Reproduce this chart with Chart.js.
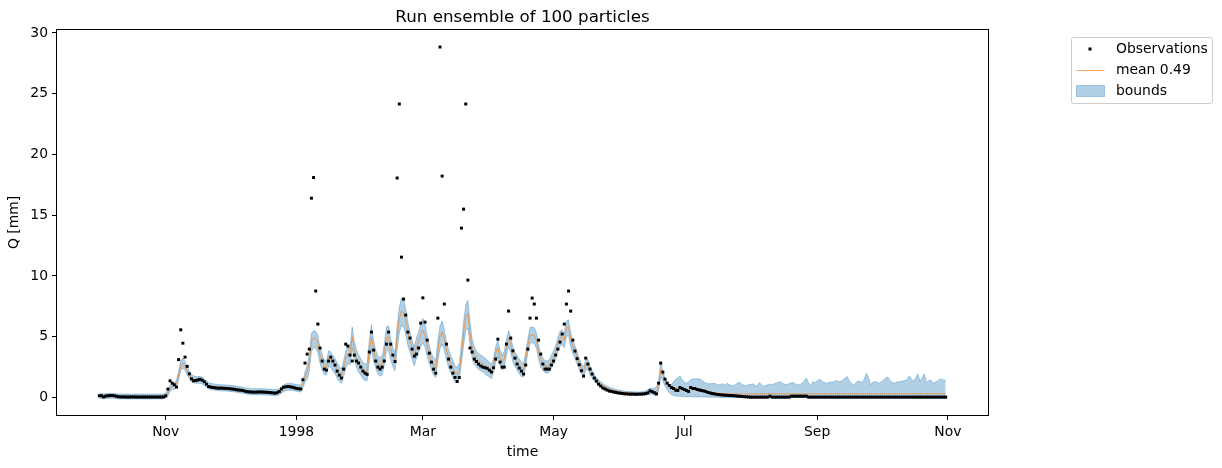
<!DOCTYPE html>
<html>
<head>
<meta charset="utf-8">
<script src="https://cdn.jsdelivr.net/npm/chart.js@4.4.1/dist/chart.umd.min.js"></script>
<style>
  html, body { margin: 0; padding: 0; background: #fff; }
  canvas { display: block; }
</style>
</head>
<body>
<canvas id="runChart" width="1222" height="468"></canvas>
<script>
// daily values from 1 Oct 1997 to 31 Oct 1998, one line per month
const observations = [
  0.14,0.14,0.05,0.12,0.14,0.16,0.16,0.14,0.1,0.06,0.05,0.05,0.05,0.04,0.04,0.05,0.05,0.04,0.04,0.04,0.04,0.04,0.04,0.04,0.04,0.04,0.04,0.04,0.04,0.04,0.05, // Oct
  0.14,0.69,1.37,1.18,1.05,0.86,3.12,5.57,4.47,3.32,2.56,1.95,1.54,1.37,1.4,1.45,1.5,1.42,1.3,1.1,0.9,0.86,0.82,0.8,0.78,0.77,0.77,0.76,0.75,0.74, // Nov
  0.72,0.7,0.68,0.64,0.62,0.6,0.58,0.52,0.48,0.46,0.45,0.44,0.44,0.45,0.46,0.45,0.44,0.43,0.42,0.4,0.38,0.36,0.4,0.5,0.7,0.84,0.88,0.9,0.88,0.85,0.8, // Dec
  0.75,0.72,0.7,1.46,2.83,3.57,3.98,16.4,18.1,8.76,6.04,4.07,3.0,2.34,2.25,3.0,3.32,3.0,2.67,2.17,1.84,1.6,2.34,4.39,4.23,3.49,3.0,3.49,3.0,2.83,2.5, // Jan
  2.17,2.0,1.9,3.74,5.38,3.9,3.0,2.5,2.34,2.5,3.0,4.39,5.38,4.39,3.49,2.96,18.06,24.15,11.55,8.1,6.78,5.38,4.89,3.98,3.4,3.57,4.07,6.12, // Feb
  8.2,6.2,4.72,3.65,2.91,2.33,2.0,6.53,28.84,18.22,7.69,4.39,3.16,2.5,2.0,1.65,1.32,1.65,13.94,15.5,24.15,9.66,4.07,3.74,3.16,2.96,2.75,2.6,2.5,2.45,2.4, // Mar
  2.25,2.1,2.45,3.16,4.8,2.91,2.5,2.5,4.39,7.11,4.89,3.84,3.24,2.75,2.42,2.17,1.93,2.67,3.98,6.53,8.18,7.69,6.53,4.72,3.57,2.75,2.34,2.34,2.34,2.67, // Apr
  3.0,3.49,3.98,4.56,5.22,6.04,7.69,8.76,7.11,4.72,3.82,3.2,2.7,2.2,1.76,3.24,2.75,2.34,1.93,1.6,1.35,1.1,0.94,0.78,0.7,0.61,0.53,0.5,0.45,0.42,0.38, // May
  0.36,0.33,0.3,0.3,0.28,0.28,0.28,0.27,0.27,0.28,0.28,0.3,0.32,0.38,0.55,0.48,0.4,0.3,1.18,2.83,2.09,1.51,1.18,0.99,0.82,0.74,0.6,0.58,0.82,0.74, // Jun
  0.66,0.58,0.5,0.82,0.74,0.74,0.66,0.62,0.58,0.54,0.5,0.42,0.38,0.33,0.3,0.26,0.24,0.22,0.2,0.19,0.18,0.17,0.16,0.15,0.13,0.11,0.1,0.08,0.06,0.05,0.04, // Jul
  0.03,0.03,0.03,0.03,0.03,0.03,0.03,0.03,0.03,0.11,0.03,0.03,0.03,0.03,0.03,0.03,0.03,0.03,0.03,0.11,0.11,0.11,0.11,0.11,0.11,0.11,0.11,0.03,0.03,0.03,0.03, // Aug
  0.03,0.03,0.03,0.03,0.03,0.03,0.03,0.03,0.03,0.03,0.03,0.03,0.03,0.03,0.03,0.03,0.03,0.03,0.03,0.03,0.03,0.03,0.03,0.03,0.03,0.03,0.03,0.03,0.03,0.03, // Sep
  0.03,0.03,0.03,0.03,0.03,0.03,0.03,0.03,0.03,0.03,0.03,0.03,0.03,0.03,0.03,0.03,0.03,0.03,0.03,0.03,0.03,0.03,0.03,0.03,0.03,0.03,0.03,0.03,0.03,0.03,0.03  // Oct
];

const meanRun = [
  0.12,0.13,0.1,0.11,0.13,0.14,0.14,0.13,0.11,0.09,0.08,0.08,0.08,0.08,0.08,0.08,0.08,0.08,0.08,0.08,0.08,0.08,0.08,0.08,0.08,0.08,0.08,0.08,0.08,0.08,0.09,
  0.15,0.4,0.75,0.9,0.95,1.1,1.8,2.6,2.85,2.6,2.2,1.85,1.6,1.5,1.45,1.45,1.45,1.38,1.25,1.08,0.98,0.92,0.88,0.85,0.83,0.81,0.8,0.79,0.78,0.77,
  0.75,0.73,0.71,0.68,0.65,0.63,0.6,0.56,0.52,0.5,0.48,0.47,0.47,0.47,0.48,0.47,0.46,0.45,0.44,0.43,0.41,0.4,0.42,0.48,0.62,0.76,0.84,0.88,0.88,0.86,0.83,
  0.79,0.76,0.74,1.1,1.7,2.1,2.9,4.6,4.9,4.85,4.5,3.5,3.0,2.55,2.5,3.3,3.2,2.9,2.65,2.3,2.0,1.8,2.4,3.2,3.6,3.45,5.0,3.9,3.3,2.9,2.6,
  2.3,2.15,2.15,3.9,5.0,3.9,3.2,2.75,2.6,2.7,3.6,4.9,4.95,4.0,3.4,3.0,5.0,6.4,7.1,7.0,6.3,5.3,4.6,4.0,3.45,4.1,4.6,5.2,
  5.55,5.1,4.3,3.6,3.0,2.6,2.4,3.9,5.0,5.4,4.8,3.9,3.3,2.8,2.4,2.0,1.9,2.2,3.6,5.3,6.6,6.9,5.3,4.1,3.5,3.2,3.0,2.9,2.8,2.65,2.5,
  2.35,2.2,2.7,3.6,4.1,3.3,2.9,3.2,4.2,4.9,4.4,3.6,3.2,2.9,2.6,2.35,2.3,3.2,4.3,5.1,5.15,5.1,4.7,3.8,3.1,2.8,2.6,2.55,2.65,3.0,
  3.35,3.8,4.4,4.9,5.0,4.7,5.7,5.8,4.8,4.2,3.8,3.3,2.8,2.4,2.2,2.7,2.8,2.3,1.95,1.65,1.45,1.25,1.1,1.0,0.85,0.78,0.7,0.64,0.58,0.54,0.5,
  0.47,0.44,0.41,0.39,0.37,0.35,0.34,0.33,0.32,0.32,0.32,0.33,0.35,0.4,0.5,0.5,0.45,0.42,0.9,2.3,1.9,1.45,1.2,1.0,0.9,0.8,0.75,0.72,0.76,0.76,
  0.72,0.66,0.6,0.72,0.74,0.72,0.68,0.64,0.6,0.56,0.52,0.47,0.43,0.4,0.37,0.35,0.33,0.32,0.31,0.3,0.3,0.3,0.29,0.29,0.3,0.3,0.29,0.3,0.3,0.29,0.3,
  0.3,0.29,0.3,0.29,0.3,0.3,0.29,0.3,0.3,0.31,0.3,0.29,0.3,0.3,0.31,0.3,0.29,0.3,0.3,0.31,0.31,0.3,0.3,0.29,0.3,0.31,0.31,0.3,0.29,0.3,0.3,
  0.3,0.31,0.3,0.29,0.3,0.3,0.31,0.3,0.29,0.3,0.3,0.31,0.31,0.3,0.29,0.3,0.3,0.3,0.31,0.32,0.3,0.29,0.3,0.3,0.31,0.3,0.29,0.3,0.3,0.3,
  0.3,0.3,0.31,0.32,0.3,0.29,0.3,0.3,0.3,0.31,0.3,0.3,0.31,0.32,0.31,0.3,0.31,0.33,0.31,0.3,0.31,0.33,0.3,0.31,0.33,0.3,0.3,0.31,0.3,0.3,0.31
];

const lowerBound = [
  -0.08,-0.07,-0.1,-0.09,-0.07,-0.06,-0.06,-0.07,-0.09,-0.11,-0.12,-0.12,-0.11,-0.12,-0.12,-0.13,-0.12,-0.12,-0.11,-0.12,-0.12,-0.12,-0.13,-0.12,-0.12,-0.12,-0.11,-0.12,-0.12,-0.12,-0.11,
  -0.05,0.15,0.5,0.65,0.7,0.8,1.45,2.2,2.45,2.25,1.9,1.55,1.3,1.22,1.17,1.17,1.17,1.1,0.98,0.82,0.73,0.67,0.63,0.6,0.58,0.56,0.55,0.54,0.53,0.52,
  0.5,0.48,0.46,0.43,0.4,0.38,0.35,0.31,0.27,0.25,0.23,0.22,0.22,0.22,0.23,0.22,0.21,0.2,0.19,0.18,0.16,0.15,0.17,0.23,0.35,0.48,0.56,0.6,0.6,0.58,0.55,
  0.52,0.48,0.45,0.8,1.25,1.5,2.2,3.8,4.1,4.1,3.7,2.8,2.3,1.9,1.85,2.6,2.5,2.2,1.95,1.6,1.3,1.15,1.7,2.4,2.8,2.7,4.1,3.1,2.5,2.1,1.85,
  1.55,1.4,1.4,3.0,4.0,3.0,2.4,1.95,1.75,1.85,2.7,3.8,3.9,3.1,2.55,2.2,4.0,5.3,5.9,5.8,5.2,4.3,3.7,3.15,2.6,3.2,3.7,4.2,
  4.5,4.15,3.4,2.8,2.25,1.85,1.65,3.0,4.0,4.4,3.9,3.1,2.5,2.05,1.65,1.3,1.2,1.5,2.8,4.3,5.5,5.7,4.3,3.3,2.75,2.5,2.3,2.2,2.1,1.95,1.8,
  1.7,1.55,2.05,2.9,3.4,2.65,2.25,2.5,3.5,4.2,3.7,2.95,2.55,2.25,1.95,1.7,1.7,2.6,3.7,4.45,4.5,4.45,4.05,3.2,2.5,2.25,2.05,2.0,2.1,2.4,
  2.75,3.2,3.8,4.25,4.35,4.1,5.0,5.1,4.15,3.6,3.25,2.75,2.3,1.95,1.75,2.25,2.35,1.9,1.6,1.35,1.18,1.02,0.88,0.8,0.68,0.61,0.54,0.49,0.44,0.4,0.36,
  0.35,0.32,0.29,0.27,0.25,0.23,0.22,0.21,0.2,0.2,0.2,0.2,0.2,0.22,0.28,0.26,0.2,0.15,0.5,1.7,1.4,0.95,0.65,0.4,0.25,0.15,0.12,0.1,0.1,0.08,
  0.07,0.06,0.05,0.06,0.06,0.05,0.05,0.05,0.04,0.04,0.04,0.03,0.03,0.03,0.02,0.02,0.02,0.02,0.01,0.01,0.01,0.01,0,0,0,0,0,0,0,0,0,
  0,0,0,0,0,0,0,0,0,0,0,0,0,0,0,0,0,0,0,0,0,0,0,0,0,0,0,0,0,0,0,
  0,0,0,0,0,0,0,0,0,0,0,0,0,0,0,0,0,0,0,0,0,0,0,0,0,0,0,0,0,0,
  0,0,0,0,0,0,0,0,0,0,0,0,0,0,0,0,0,0,0,0,0,0,0,0,0,0,0,0,0,0,0
];

const upperBound = [
  0.32,0.33,0.3,0.31,0.33,0.34,0.34,0.33,0.31,0.29,0.28,0.28,0.29,0.28,0.28,0.27,0.28,0.28,0.29,0.28,0.28,0.28,0.27,0.28,0.28,0.28,0.29,0.28,0.28,0.28,0.29,
  0.35,0.65,1.0,1.15,1.2,1.4,2.15,3.0,3.25,2.95,2.5,2.15,1.9,1.78,1.73,1.73,1.73,1.66,1.52,1.34,1.23,1.17,1.13,1.1,1.08,1.06,1.05,1.04,1.03,1.02,
  1.0,0.98,0.96,0.93,0.9,0.88,0.85,0.81,0.77,0.75,0.73,0.72,0.72,0.72,0.73,0.72,0.71,0.7,0.69,0.68,0.66,0.65,0.67,0.75,0.9,1.05,1.12,1.16,1.16,1.14,1.11,
  1.06,1.04,1.03,1.4,2.1,2.6,3.5,5.3,5.5,5.45,5.1,4.1,3.55,3.05,3.0,3.85,3.75,3.45,3.2,2.85,2.55,2.35,3.0,3.8,4.2,4.05,5.8,4.6,3.95,3.5,3.2,
  2.9,2.75,2.8,4.7,6.0,4.7,3.9,3.4,3.3,3.4,4.4,5.8,5.9,4.8,4.1,3.7,5.9,7.4,8.2,8.1,7.3,6.2,5.4,4.7,4.15,4.9,5.4,6.1,
  6.5,6.0,5.1,4.3,3.65,3.25,3.05,4.7,5.9,6.3,5.6,4.6,3.95,3.45,3.05,2.6,2.5,2.8,4.3,6.2,7.6,8.0,6.2,4.8,4.15,3.8,3.6,3.5,3.4,3.25,3.1,
  2.9,2.75,3.25,4.2,4.7,3.9,3.45,3.8,4.8,5.5,5.0,4.15,3.75,3.45,3.15,2.9,2.8,3.7,4.8,5.75,5.8,5.75,5.3,4.3,3.6,3.25,3.05,3.0,3.1,3.5,
  3.85,4.3,4.9,5.45,5.55,5.2,6.3,6.4,5.35,4.7,4.25,3.75,3.2,2.75,2.55,3.05,3.15,2.6,2.2,1.88,1.66,1.44,1.28,1.17,1.0,0.93,0.84,0.78,0.71,0.67,0.63,
  0.59,0.56,0.53,0.51,0.5,0.48,0.47,0.46,0.45,0.46,0.47,0.5,0.55,0.65,0.78,0.77,0.72,0.9,1.3,2.96,2.2,1.6,1.32,1.1,1.04,1.32,1.5,1.6,1.79,1.45,
  1.3,1.18,1.3,1.46,1.54,1.5,1.54,1.54,1.45,1.32,1.2,1.13,1.13,1.15,1.18,1.1,1.04,1.08,1.12,1.0,1.18,1.05,1.0,0.96,1.1,1.2,1.24,1.05,1.0,0.96,1.1,
  1.05,1.13,1.0,0.91,1.24,1.05,0.91,1.0,1.04,1.1,1.05,1.13,1.2,1.25,1.32,1.15,1.1,1.04,1.15,1.2,1.24,1.1,1.05,1.04,1.2,1.35,1.6,1.2,0.96,1.32,1.2,
  1.35,1.51,1.4,1.25,1.2,1.18,1.3,1.25,1.32,1.4,1.3,1.32,1.45,1.6,1.73,1.4,1.15,1.04,1.2,1.35,1.32,1.25,1.5,2.0,1.6,1.04,1.25,1.32,1.25,1.18,
  1.3,1.45,1.6,1.68,1.4,1.25,1.18,1.25,1.3,1.32,1.35,1.4,1.46,1.79,1.55,1.32,1.6,1.95,1.32,1.6,1.95,1.24,1.35,1.46,1.18,1.25,1.32,1.5,1.51,1.45,1.4
];

// x axis counts days from 1 Oct 1997
const tickDays = [31, 92, 151, 212, 273, 335, 396];
const tickLabels = ['Nov', '1998', 'Mar', 'May', 'Jul', 'Sep', 'Nov'];
const yTicks = [0, 5, 10, 15, 20, 25, 30];

const bandFill = 'rgba(31,119,180,0.35)';
const meanColor = 'rgba(255,127,14,0.85)';

Chart.defaults.font.family = '"DejaVu Sans", sans-serif';
Chart.defaults.font.size = 13.9;
Chart.defaults.color = '#000';

const toPoints = arr => arr.map((v, i) => ({ x: i, y: v }));

// frame, title and legend drawn like the matplotlib figure
const decorations = {
  id: 'decorations',
  afterDraw(chart) {
    const { ctx, chartArea: a } = chart;
    ctx.save();
    ctx.strokeStyle = '#000';
    ctx.lineWidth = 1;
    ctx.strokeRect(a.left - 0.5, a.top - 0.5, a.right - a.left + 1, a.bottom - a.top + 1);

    ctx.fillStyle = '#000';
    ctx.font = '16.7px "DejaVu Sans"';
    ctx.textAlign = 'center';
    ctx.textBaseline = 'alphabetic';
    ctx.fillText('Run ensemble of 100 particles', (a.left + a.right) / 2, 22);

    // legend box
    const bx = 1071.5, by = 37.5, bw = 141, bh = 66;
    ctx.fillStyle = 'rgba(255,255,255,0.8)';
    ctx.strokeStyle = '#cccccc';
    ctx.beginPath();
    ctx.roundRect(bx, by, bw, bh, 2);
    ctx.fill();
    ctx.stroke();

    const ds = chart.data.datasets;
    ctx.font = '13.9px "DejaVu Sans"';
    ctx.textAlign = 'left';
    ctx.textBaseline = 'middle';
    ctx.fillStyle = '#000';

    ctx.fillRect(1088.5, 47.5, 3, 3);
    ctx.fillText(ds[0].label, 1116, 49);

    ctx.strokeStyle = meanColor;
    ctx.lineWidth = 0.8;
    ctx.beginPath();
    ctx.moveTo(1076.5, 70.5);
    ctx.lineTo(1104.5, 70.5);
    ctx.stroke();
    ctx.fillText(ds[1].label, 1116, 70);

    ctx.lineWidth = 1;
    ctx.fillStyle = bandFill;
    ctx.fillRect(1076.5, 85.5, 28, 11);
    ctx.strokeStyle = bandFill;
    ctx.strokeRect(1076.5, 85.5, 28, 11);
    ctx.fillStyle = '#000';
    ctx.fillText(ds[3].label, 1116, 91);
    ctx.restore();
  }
};

new Chart(document.getElementById('runChart'), {
  type: 'line',
  data: {
    datasets: [
      {
        label: 'Observations',
        data: toPoints(observations),
        showLine: false,
        pointStyle: 'rect',
        pointRadius: 2.1,
        pointBorderWidth: 0,
        pointBackgroundColor: '#000',
        order: 0
      },
      {
        label: 'mean 0.49',
        data: toPoints(meanRun),
        borderColor: meanColor,
        borderWidth: 0.8,
        pointRadius: 0,
        order: 1
      },
      {
        label: '',
        data: toPoints(lowerBound),
        borderColor: bandFill,
        borderWidth: 1,
        pointRadius: 0,
        order: 2
      },
      {
        label: 'bounds',
        data: toPoints(upperBound),
        borderColor: bandFill,
        borderWidth: 1,
        pointRadius: 0,
        backgroundColor: bandFill,
        fill: '-1',
        order: 3
      }
    ]
  },
  options: {
    responsive: false,
    animation: false,
    events: [],
    layout: { padding: { left: 0, top: 30, right: 234, bottom: 0 } },
    elements: { line: { tension: 0 } },
    plugins: {
      legend: { display: false },
      tooltip: { enabled: false }
    },
    scales: {
      x: {
        type: 'linear',
        min: -19.75,
        max: 414.75,
        afterBuildTicks: s => { s.ticks = tickDays.map(v => ({ value: v })); },
        afterFit: s => { s.height = 53; },
        ticks: {
          autoSkip: false,
          maxRotation: 0,
          padding: 4,
          callback: v => tickLabels[tickDays.indexOf(v)]
        },
        grid: { drawOnChartArea: false, tickLength: 5, color: '#000' },
        border: { display: false },
        title: { display: true, text: 'time', padding: { top: 0, bottom: 7 } }
      },
      y: {
        min: -1.44,
        max: 30.24,
        afterBuildTicks: s => { s.ticks = yTicks.map(v => ({ value: v })); },
        afterFit: s => { s.width = 57; },
        ticks: { padding: 4 },
        grid: { drawOnChartArea: false, tickLength: 5, color: '#000' },
        border: { display: false },
        title: { display: true, text: 'Q [mm]', padding: { top: 6, bottom: 0 } }
      }
    }
  },
  plugins: [decorations]
});
</script>
</body>
</html>
